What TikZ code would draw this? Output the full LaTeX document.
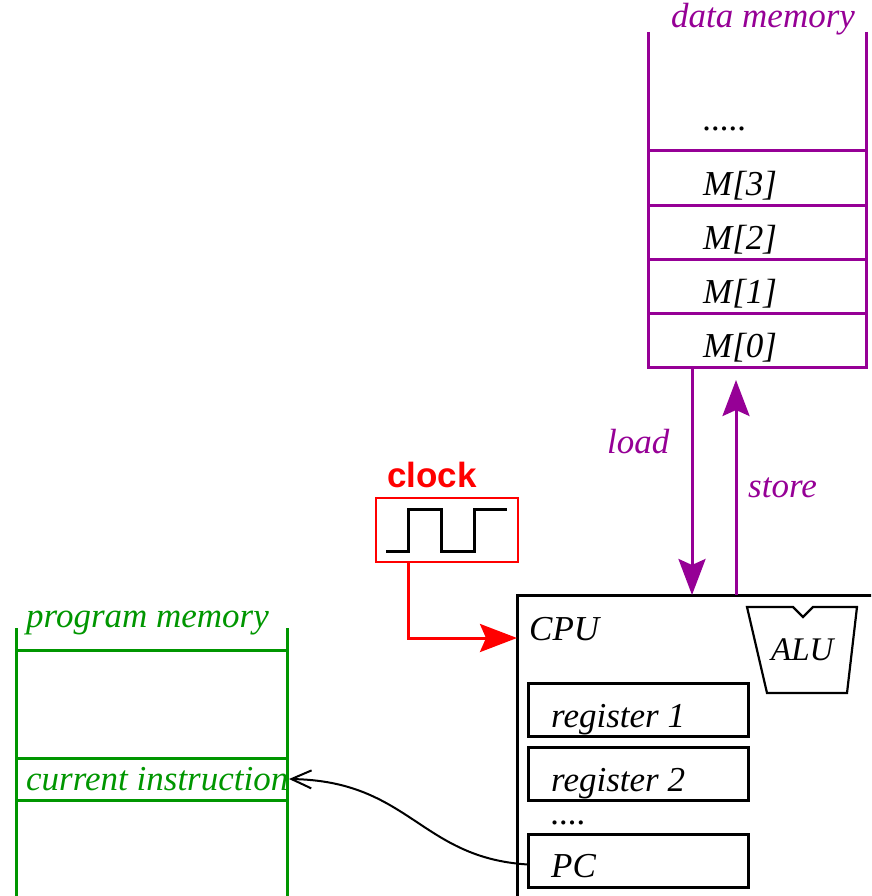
\documentclass[tikz,border=0pt]{standalone}
\usepackage{fontspec}
\setmainfont{Liberation Serif}
\newfontfamily\clockfont{Liberation Sans}
\usetikzlibrary{arrows.meta}
\definecolor{dmpurple}{RGB}{150,0,150}
\definecolor{pmgreen}{RGB}{0,150,0}
\definecolor{clkred}{RGB}{255,0,0}
\begin{document}
\begin{tikzpicture}[x=1pt,y=-1pt,
  txt/.style={font=\fontsize{35}{40}\selectfont\itshape, inner sep=0pt, anchor=base west},
  dmcell/.style={draw=dmpurple, line width=3pt, minimum width=218pt, minimum height=54pt, inner sep=0pt, outer sep=0pt, anchor=north west},
  dmline/.style={draw=dmpurple, line width=3pt},
  pmline/.style={draw=pmgreen, line width=3pt},
  regbox/.style={draw, line width=3pt, minimum width=220pt, minimum height=53pt, inner sep=0pt, outer sep=0pt, anchor=north west},
]
\useasboundingbox (0,0) rectangle (871,896);
\clip (0,0) rectangle (871,896);
\fill[white] (0,0) rectangle (871,896);

% ---------- data memory ----------
\node[txt, text=dmpurple] (dmlabel) at (671,28) {data memory};
\node[dmcell] (m3) at (648,151) {};
\node[dmcell] (m2) at (648,205) {};
\node[dmcell] (m1) at (648,259) {};
\node[dmcell] (m0) at (648,313) {};
\coordinate (dmtop) at (0,32);
\draw[dmline] (m3.north west |- dmtop) -- (m3.north west);
\draw[dmline] (m3.north east |- dmtop) -- (m3.north east);
\node[txt] (dots) at (703,131) {.....};
\node[txt] (t3) at (703,195) {M[3]};
\node[txt] (t2) at (703,249) {M[2]};
\node[txt] (t1) at (703,303) {M[1]};
\node[txt] (t0) at (703,357) {M[0]};

% ---------- CPU ----------
\node[draw, line width=3pt, minimum width=420pt, minimum height=400pt, inner sep=0pt, outer sep=0pt, anchor=north west] (cpu) at (517,595) {};
\node[txt] (cpulabel) at (529,640) {CPU};
\draw[line width=2.2pt] (747,607) -- (793,607) -- (803,617) -- (813,607) -- (857,607) -- (847,693) -- (767,693) -- cycle;
\node[txt, font=\fontsize{33}{38}\selectfont\itshape] (alu) at (771,660) {ALU};
\node[regbox] (r1) at (528,683) {};
\node[regbox] (r2) at (528,747) {};
\node[regbox] (pc) at (528,834) {};
\node[txt] (r1t) at (551,727) {register 1};
\node[txt] (r2t) at (551,791) {register 2};
\node[txt] (rdots) at (551,824) {....};
\node[txt] (pct) at (551,877) {PC};

% ---------- load / store ----------
\coordinate (ldx) at (692,0);
\coordinate (stx) at (736,0);
\draw[line width=3pt, draw=dmpurple, -{Stealth[length=36pt, width=27pt, inset=6pt, fill=dmpurple]}] (m0.south -| ldx) -- (cpu.north -| ldx);
\draw[line width=3pt, draw=dmpurple, -{Stealth[length=36pt, width=27pt, inset=6pt, fill=dmpurple]}] (cpu.north -| stx) -- ([yshift=-13pt]m0.south -| stx);
\node[txt, text=dmpurple] (load) at (607,453) {load};
\node[txt, text=dmpurple] (store) at (748,497) {store};

% ---------- clock ----------
\node[font=\clockfont\bfseries\fontsize{35}{40}\selectfont, text=clkred, inner sep=0pt, anchor=base west] (clklabel) at (387,487) {clock};
\node[draw=clkred, line width=2.8pt, minimum width=142pt, minimum height=64pt, inner sep=0pt, outer sep=0pt, anchor=north west] (clk) at (376,498) {};
\draw[line width=3pt] (386,551) -- (408,551) -- (408,509) -- (441,509) -- (441,551) -- (474,551) -- (474,509) -- (507,509);
\coordinate (clkx) at (408,0);
\coordinate (clky) at (0,638);
\draw[line width=3pt, draw=clkred, -{Stealth[length=37pt, width=28pt, inset=6pt, fill=clkred]}] (clk.south -| clkx) |- (cpu.west |- clky);

% ---------- program memory ----------
\node[txt, text=pmgreen] (pmlabel) at (26,627) {program memory};
\coordinate (pmtl) at (16,628);
\coordinate (pmtr) at (287,628);
\coordinate (pmbl) at (16,900);
\coordinate (pmbr) at (287,900);
\draw[pmline] (pmtl) -- (pmbl);
\draw[pmline] (pmtr) -- (pmbr);
\coordinate (h1) at (0,650);
\coordinate (h2) at (0,758);
\coordinate (h3) at (0,800);
\draw[pmline] (pmtl |- h1) -- (pmtr |- h1);
\draw[pmline] (pmtl |- h2) -- (pmtr |- h2);
\draw[pmline] (pmtl |- h3) -- (pmtr |- h3);
\node[txt, text=pmgreen] (ci) at (26,790) {current instruction};
\coordinate (cie) at (289,779);

% ---------- PC pointer ----------
\draw[line width=2pt, -{Straight Barb[length=20pt, width=18pt]}] ([yshift=-4pt]pc.west) .. controls (420,858) and (410,781) .. (cie);
\end{tikzpicture}
\end{document}
